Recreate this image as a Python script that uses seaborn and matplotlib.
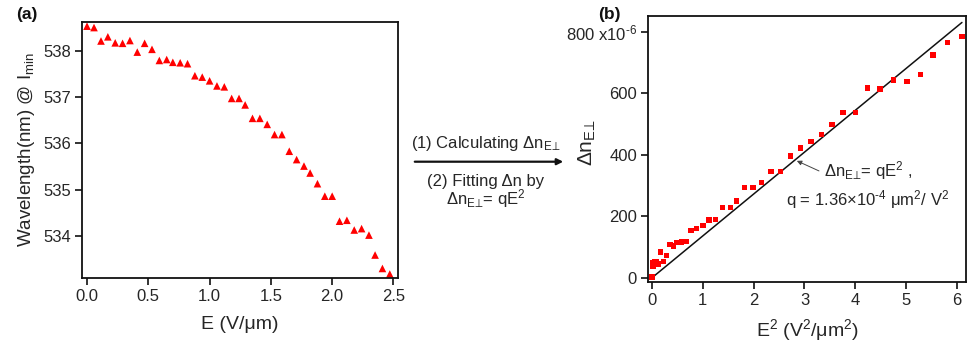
import numpy as np
import pandas as pd
import matplotlib
matplotlib.use("Agg")
import matplotlib.pyplot as plt
import seaborn as sns

# ---- data ----
E_field = [0, 0.057, 0.114, 0.17, 0.23, 0.29, 0.35, 0.41, 0.47, 0.53, 0.59, 0.65, 0.70,
           0.76, 0.82, 0.88, 0.94, 1.00, 1.06, 1.12, 1.18, 1.24, 1.29, 1.35, 1.41, 1.47,
           1.53, 1.59, 1.65, 1.71, 1.77, 1.82, 1.88, 1.94, 2.00, 2.06, 2.12, 2.18, 2.24,
           2.30, 2.35, 2.41, 2.47]
wavelength = [538.53, 538.50, 538.21, 538.30, 538.17, 538.16, 538.22, 537.97, 538.16,
              538.03, 537.79, 537.81, 537.75, 537.74, 537.72, 537.46, 537.43, 537.35,
              537.24, 537.22, 536.97, 536.97, 536.83, 536.54, 536.54, 536.41, 536.19,
              536.19, 535.83, 535.65, 535.51, 535.36, 535.13, 534.86, 534.86, 534.32,
              534.34, 534.13, 534.16, 534.02, 533.59, 533.30, 533.18]

E_squared = [0, 0.003, 0.013, 0.029, 0.053, 0.084, 0.12, 0.17, 0.22, 0.28, 0.35, 0.42,
             0.49, 0.58, 0.67, 0.77, 0.88, 1.0, 1.12, 1.25, 1.39, 1.54, 1.66, 1.82, 1.99,
             2.16, 2.34, 2.53, 2.72, 2.92, 3.13, 3.33, 3.54, 3.76, 4.0, 4.24, 4.49, 4.75,
             5.02, 5.29, 5.53, 5.81, 6.1]
delta_n = [2, 36, 49, 36, 53, 52, 44, 83, 52, 73, 107, 103, 114, 116, 118, 153, 160, 170,
           188, 190, 228, 228, 250, 293, 293, 310, 345, 345, 396, 422, 442, 465, 498, 537,
           537, 617, 614, 643, 639, 660, 724, 765, 785]

fit_x = [0, 6.1]
fit_y = [0, 830]

left_xticks = [0.0, 0.5, 1.0, 1.5, 2.0, 2.5]
left_yticks = [534, 535, 536, 537, 538]
right_xticks = [0, 1, 2, 3, 4, 5, 6]
right_yticks = [0, 200, 400, 600, 800]
right_yticklabels = ["0", "200", "400", "600", "800 x10$^{\\mathregular{\u2010}6}$"]

# ---- style ----
sns.set_style("ticks")
plt.rcParams["font.family"] = ["Liberation Sans", "DejaVu Sans"]
plt.rcParams["mathtext.fontset"] = "custom"
plt.rcParams["mathtext.rm"] = "Liberation Sans"
plt.rcParams["mathtext.it"] = "Liberation Sans"
plt.rcParams["mathtext.fallback"] = "stixsans"
TXT = "#262626"

fig = plt.figure(figsize=(9.73, 3.47), dpi=100)
axL = fig.add_axes([82 / 973, 1 - 278 / 347, 316 / 973, 256 / 347])
axR = fig.add_axes([648 / 973, 1 - 281.7 / 347, 318 / 973, 265.7 / 347])

dfL = pd.DataFrame({"E": E_field, "wl": wavelength})
sns.scatterplot(data=dfL, x="E", y="wl", ax=axL, marker="^", color="#ff0000",
                s=30, edgecolor="none", linewidth=0)
axL.set_xlim(-0.041, 2.537)
axL.set_ylim(533.094, 538.62)
axL.set_xticks(left_xticks)
axL.set_xticklabels([f"{v:.1f}" for v in left_xticks])
axL.set_yticks(left_yticks)
axL.set_xlabel("E (V/μm)", fontsize=14, color=TXT)
axL.set_ylabel("Wavelength(nm) @ I$_{\\mathregular{min}}$", fontsize=13.5, color=TXT)
axL.yaxis.set_label_coords(-0.142, 0.5)
axL.xaxis.set_label_coords(0.5, -0.15)

dfR = pd.DataFrame({"E2": E_squared, "dn": delta_n})
sns.lineplot(x=fit_x, y=fit_y, ax=axR, color="#111111", linewidth=1.1)
sns.scatterplot(data=dfR, x="E2", y="dn", ax=axR, marker="s", color="#ff0000",
                s=15, edgecolor="none", linewidth=0, zorder=3)
axR.set_xlim(-0.08, 6.18)
axR.set_ylim(-13, 851)
axR.set_xticks(right_xticks)
axR.set_yticks(right_yticks)
axR.set_yticklabels(right_yticklabels)
axR.set_xlabel("E$^{\\mathregular{2}}$ (V$^{\\mathregular{2}}$/μm$^{\\mathregular{2}}$)",
               fontsize=14, color=TXT)
axR.set_ylabel("Δn$_{\\mathregular{E⊥}}$", fontsize=15, color=TXT)
axR.yaxis.set_label_coords(-0.157, 0.522)
axR.xaxis.set_label_coords(0.5, -0.135)

for ax in (axL, axR):
    for sp in ax.spines.values():
        sp.set_visible(True)
        sp.set_linewidth(1.3)
        sp.set_color("#111111")
    ax.tick_params(axis="both", direction="out", length=5, width=1.2,
                   labelsize=12, colors="#111111", labelcolor=TXT, pad=3)
    ax.tick_params(top=False, right=False)

axR.annotate("Δn$_{\\mathregular{E⊥}}$= qE$^{\\mathregular{2}}$ ,\nq = 1.36×10$^{\\mathregular{\u20104}}$ μm$^{\\mathregular{2}}$/ V$^{\\mathregular{2}}$",
             xy=(2.85, 380), xytext=(4.25, 300), ha="center", va="center",
             fontsize=12, color=TXT, linespacing=1.35,
             arrowprops=dict(arrowstyle="-|>", color="#444444", lw=0.7,
                             mutation_scale=7, shrinkA=0, shrinkB=0,
                             relpos=(0.2, 0.78)))

# middle arrow and text
fig.patches.append(matplotlib.patches.FancyArrowPatch(
    (412 / 973, 1 - 161.7 / 347), (566 / 973, 1 - 161.7 / 347),
    transform=fig.transFigure, arrowstyle="-|>", mutation_scale=9,
    color="#111111", lw=1.6))
fig.text(486 / 973, 1 - 144 / 347, "(1) Calculating Δn$_{\\mathregular{E⊥}}$",
         ha="center", va="center", fontsize=12, color=TXT)
fig.text(486 / 973, 1 - 181 / 347, "(2) Fitting Δn by",
         ha="center", va="center", fontsize=12, color=TXT)
fig.text(486 / 973, 1 - 199 / 347, "Δn$_{\\mathregular{E⊥}}$= qE$^{\\mathregular{2}}$",
         ha="center", va="center", fontsize=12, color=TXT)

fig.text(16 / 973, 1 - 15 / 347, "(a)", fontsize=12.5, fontweight="bold",
         ha="left", va="center", color="#111111")
fig.text(598 / 973, 1 - 15 / 347, "(b)", fontsize=12.5, fontweight="bold",
         ha="left", va="center", color="#111111")

fig.savefig("out.png", dpi=100)
